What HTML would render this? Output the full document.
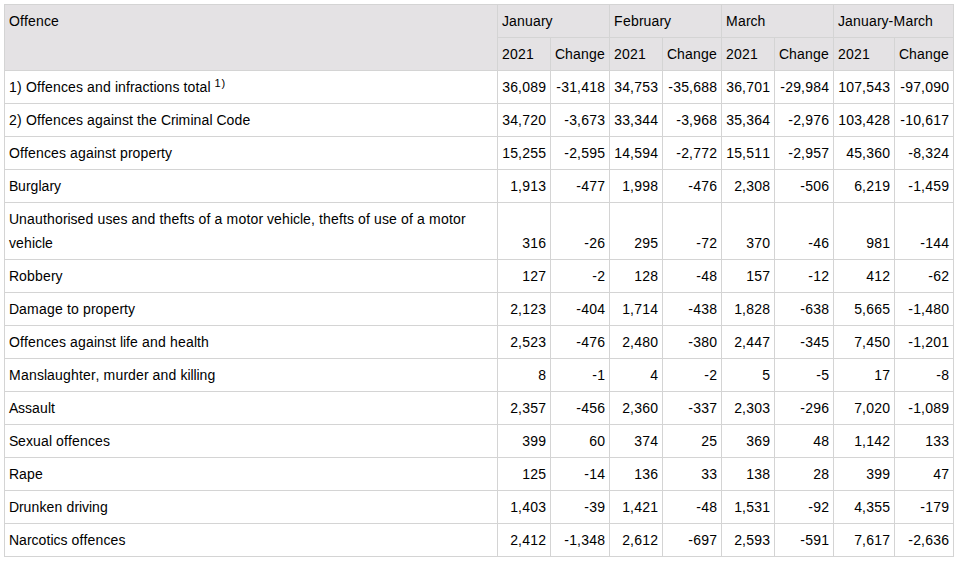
<!DOCTYPE html>
<html><head><meta charset="utf-8"><style>
html,body{margin:0;padding:0;background:#fff;}
body{width:957px;height:564px;overflow:hidden;position:relative;}
table{position:absolute;left:4px;top:4px;width:950px;border-collapse:collapse;table-layout:fixed;font-family:"Liberation Sans",sans-serif;font-size:14px;line-height:24px;color:#000;}
th,td{border:1px solid #d4d4d4;padding:4px 4px;white-space:nowrap;text-align:left;vertical-align:top;font-weight:normal;overflow:hidden;}
th{background:#e4e2e4;}
td{vertical-align:bottom;}
td.n{text-align:right;}
i{display:inline-block;font-style:normal;}
sup{font-size:11px;line-height:0;vertical-align:5px;}
.w3{width:3px}.w4{width:4px}.w4_5{width:4.5px}.w5{width:5px}.w7{width:7px}.w8{width:8px}.w9{width:9px}.w10{width:10px}.w11{width:11px}.w12{width:12px}
</style></head><body>
<table>
<colgroup><col style="width:493px"><col style="width:53px"><col style="width:59px"><col style="width:53px"><col style="width:59px"><col style="width:53px"><col style="width:59px"><col style="width:61px"><col style="width:59px"></colgroup>
<thead>
<tr><th rowspan="2"><i class=w11>O</i><i class=w4>f</i><i class=w4>f</i><i class=w8>e</i><i class=w8>n</i><i class=w7>c</i><i class=w8>e</i></th><th colspan="2"><i class=w7>J</i><i class=w8>a</i><i class=w8>n</i><i class=w8>u</i><i class=w8>a</i><i class=w4_5>r</i><i class=w7>y</i></th><th colspan="2"><i class=w9>F</i><i class=w8>e</i><i class=w8>b</i><i class=w4_5>r</i><i class=w8>u</i><i class=w8>a</i><i class=w4_5>r</i><i class=w7>y</i></th><th colspan="2"><i class=w12>M</i><i class=w8>a</i><i class=w4_5>r</i><i class=w7>c</i><i class=w8>h</i></th><th colspan="2"><i class=w7>J</i><i class=w8>a</i><i class=w8>n</i><i class=w8>u</i><i class=w8>a</i><i class=w4_5>r</i><i class=w7>y</i><i class=w5>-</i><i class=w12>M</i><i class=w8>a</i><i class=w4_5>r</i><i class=w7>c</i><i class=w8>h</i></th></tr>
<tr><th><i class=w8>2</i><i class=w8>0</i><i class=w8>2</i><i class=w8>1</i></th><th><i class=w10>C</i><i class=w8>h</i><i class=w8>a</i><i class=w8>n</i><i class=w8>g</i><i class=w8>e</i></th><th><i class=w8>2</i><i class=w8>0</i><i class=w8>2</i><i class=w8>1</i></th><th><i class=w10>C</i><i class=w8>h</i><i class=w8>a</i><i class=w8>n</i><i class=w8>g</i><i class=w8>e</i></th><th><i class=w8>2</i><i class=w8>0</i><i class=w8>2</i><i class=w8>1</i></th><th><i class=w10>C</i><i class=w8>h</i><i class=w8>a</i><i class=w8>n</i><i class=w8>g</i><i class=w8>e</i></th><th><i class=w8>2</i><i class=w8>0</i><i class=w8>2</i><i class=w8>1</i></th><th><i class=w10>C</i><i class=w8>h</i><i class=w8>a</i><i class=w8>n</i><i class=w8>g</i><i class=w8>e</i></th></tr>
</thead>
<tbody>
<tr><td><i class=w8>1</i><i class=w5>)</i><i class=w4>&nbsp;</i><i class=w11>O</i><i class=w4>f</i><i class=w4>f</i><i class=w8>e</i><i class=w8>n</i><i class=w7>c</i><i class=w8>e</i><i class=w7>s</i><i class=w4>&nbsp;</i><i class=w8>a</i><i class=w8>n</i><i class=w8>d</i><i class=w4>&nbsp;</i><i class=w3>i</i><i class=w8>n</i><i class=w4>f</i><i class=w4_5>r</i><i class=w8>a</i><i class=w7>c</i><i class=w4>t</i><i class=w3>i</i><i class=w8>o</i><i class=w8>n</i><i class=w7>s</i><i class=w4>&nbsp;</i><i class=w4>t</i><i class=w8>o</i><i class=w4>t</i><i class=w8>a</i><i class=w3>l</i><i class=w4>&nbsp;</i><sup><i class=w7>1</i><i class=w4>)</i></sup></td><td class=n><i class=w8>3</i><i class=w8>6</i><i class=w4>,</i><i class=w8>0</i><i class=w8>8</i><i class=w8>9</i></td><td class=n><i class=w5>-</i><i class=w8>3</i><i class=w8>1</i><i class=w4>,</i><i class=w8>4</i><i class=w8>1</i><i class=w8>8</i></td><td class=n><i class=w8>3</i><i class=w8>4</i><i class=w4>,</i><i class=w8>7</i><i class=w8>5</i><i class=w8>3</i></td><td class=n><i class=w5>-</i><i class=w8>3</i><i class=w8>5</i><i class=w4>,</i><i class=w8>6</i><i class=w8>8</i><i class=w8>8</i></td><td class=n><i class=w8>3</i><i class=w8>6</i><i class=w4>,</i><i class=w8>7</i><i class=w8>0</i><i class=w8>1</i></td><td class=n><i class=w5>-</i><i class=w8>2</i><i class=w8>9</i><i class=w4>,</i><i class=w8>9</i><i class=w8>8</i><i class=w8>4</i></td><td class=n><i class=w8>1</i><i class=w8>0</i><i class=w8>7</i><i class=w4>,</i><i class=w8>5</i><i class=w8>4</i><i class=w8>3</i></td><td class=n><i class=w5>-</i><i class=w8>9</i><i class=w8>7</i><i class=w4>,</i><i class=w8>0</i><i class=w8>9</i><i class=w8>0</i></td></tr>
<tr><td><i class=w8>2</i><i class=w5>)</i><i class=w4>&nbsp;</i><i class=w11>O</i><i class=w4>f</i><i class=w4>f</i><i class=w8>e</i><i class=w8>n</i><i class=w7>c</i><i class=w8>e</i><i class=w7>s</i><i class=w4>&nbsp;</i><i class=w8>a</i><i class=w8>g</i><i class=w8>a</i><i class=w3>i</i><i class=w8>n</i><i class=w7>s</i><i class=w4>t</i><i class=w4>&nbsp;</i><i class=w4>t</i><i class=w8>h</i><i class=w8>e</i><i class=w4>&nbsp;</i><i class=w10>C</i><i class=w4_5>r</i><i class=w3>i</i><i class=w12>m</i><i class=w3>i</i><i class=w8>n</i><i class=w8>a</i><i class=w3>l</i><i class=w4>&nbsp;</i><i class=w10>C</i><i class=w8>o</i><i class=w8>d</i><i class=w8>e</i></td><td class=n><i class=w8>3</i><i class=w8>4</i><i class=w4>,</i><i class=w8>7</i><i class=w8>2</i><i class=w8>0</i></td><td class=n><i class=w5>-</i><i class=w8>3</i><i class=w4>,</i><i class=w8>6</i><i class=w8>7</i><i class=w8>3</i></td><td class=n><i class=w8>3</i><i class=w8>3</i><i class=w4>,</i><i class=w8>3</i><i class=w8>4</i><i class=w8>4</i></td><td class=n><i class=w5>-</i><i class=w8>3</i><i class=w4>,</i><i class=w8>9</i><i class=w8>6</i><i class=w8>8</i></td><td class=n><i class=w8>3</i><i class=w8>5</i><i class=w4>,</i><i class=w8>3</i><i class=w8>6</i><i class=w8>4</i></td><td class=n><i class=w5>-</i><i class=w8>2</i><i class=w4>,</i><i class=w8>9</i><i class=w8>7</i><i class=w8>6</i></td><td class=n><i class=w8>1</i><i class=w8>0</i><i class=w8>3</i><i class=w4>,</i><i class=w8>4</i><i class=w8>2</i><i class=w8>8</i></td><td class=n><i class=w5>-</i><i class=w8>1</i><i class=w8>0</i><i class=w4>,</i><i class=w8>6</i><i class=w8>1</i><i class=w8>7</i></td></tr>
<tr><td><i class=w11>O</i><i class=w4>f</i><i class=w4>f</i><i class=w8>e</i><i class=w8>n</i><i class=w7>c</i><i class=w8>e</i><i class=w7>s</i><i class=w4>&nbsp;</i><i class=w8>a</i><i class=w8>g</i><i class=w8>a</i><i class=w3>i</i><i class=w8>n</i><i class=w7>s</i><i class=w4>t</i><i class=w4>&nbsp;</i><i class=w8>p</i><i class=w4_5>r</i><i class=w8>o</i><i class=w8>p</i><i class=w8>e</i><i class=w4_5>r</i><i class=w4>t</i><i class=w7>y</i></td><td class=n><i class=w8>1</i><i class=w8>5</i><i class=w4>,</i><i class=w8>2</i><i class=w8>5</i><i class=w8>5</i></td><td class=n><i class=w5>-</i><i class=w8>2</i><i class=w4>,</i><i class=w8>5</i><i class=w8>9</i><i class=w8>5</i></td><td class=n><i class=w8>1</i><i class=w8>4</i><i class=w4>,</i><i class=w8>5</i><i class=w8>9</i><i class=w8>4</i></td><td class=n><i class=w5>-</i><i class=w8>2</i><i class=w4>,</i><i class=w8>7</i><i class=w8>7</i><i class=w8>2</i></td><td class=n><i class=w8>1</i><i class=w8>5</i><i class=w4>,</i><i class=w8>5</i><i class=w8>1</i><i class=w8>1</i></td><td class=n><i class=w5>-</i><i class=w8>2</i><i class=w4>,</i><i class=w8>9</i><i class=w8>5</i><i class=w8>7</i></td><td class=n><i class=w8>4</i><i class=w8>5</i><i class=w4>,</i><i class=w8>3</i><i class=w8>6</i><i class=w8>0</i></td><td class=n><i class=w5>-</i><i class=w8>8</i><i class=w4>,</i><i class=w8>3</i><i class=w8>2</i><i class=w8>4</i></td></tr>
<tr><td><i class=w9>B</i><i class=w8>u</i><i class=w4_5>r</i><i class=w8>g</i><i class=w3>l</i><i class=w8>a</i><i class=w4_5>r</i><i class=w7>y</i></td><td class=n><i class=w8>1</i><i class=w4>,</i><i class=w8>9</i><i class=w8>1</i><i class=w8>3</i></td><td class=n><i class=w5>-</i><i class=w8>4</i><i class=w8>7</i><i class=w8>7</i></td><td class=n><i class=w8>1</i><i class=w4>,</i><i class=w8>9</i><i class=w8>9</i><i class=w8>8</i></td><td class=n><i class=w5>-</i><i class=w8>4</i><i class=w8>7</i><i class=w8>6</i></td><td class=n><i class=w8>2</i><i class=w4>,</i><i class=w8>3</i><i class=w8>0</i><i class=w8>8</i></td><td class=n><i class=w5>-</i><i class=w8>5</i><i class=w8>0</i><i class=w8>6</i></td><td class=n><i class=w8>6</i><i class=w4>,</i><i class=w8>2</i><i class=w8>1</i><i class=w8>9</i></td><td class=n><i class=w5>-</i><i class=w8>1</i><i class=w4>,</i><i class=w8>4</i><i class=w8>5</i><i class=w8>9</i></td></tr>
<tr><td><i class=w10>U</i><i class=w8>n</i><i class=w8>a</i><i class=w8>u</i><i class=w4>t</i><i class=w8>h</i><i class=w8>o</i><i class=w4_5>r</i><i class=w3>i</i><i class=w7>s</i><i class=w8>e</i><i class=w8>d</i><i class=w4>&nbsp;</i><i class=w8>u</i><i class=w7>s</i><i class=w8>e</i><i class=w7>s</i><i class=w4>&nbsp;</i><i class=w8>a</i><i class=w8>n</i><i class=w8>d</i><i class=w4>&nbsp;</i><i class=w4>t</i><i class=w8>h</i><i class=w8>e</i><i class=w4>f</i><i class=w4>t</i><i class=w7>s</i><i class=w4>&nbsp;</i><i class=w8>o</i><i class=w4>f</i><i class=w4>&nbsp;</i><i class=w8>a</i><i class=w4>&nbsp;</i><i class=w12>m</i><i class=w8>o</i><i class=w4>t</i><i class=w8>o</i><i class=w4_5>r</i><i class=w4>&nbsp;</i><i class=w7>v</i><i class=w8>e</i><i class=w8>h</i><i class=w3>i</i><i class=w7>c</i><i class=w3>l</i><i class=w8>e</i><i class=w4>,</i><i class=w4>&nbsp;</i><i class=w4>t</i><i class=w8>h</i><i class=w8>e</i><i class=w4>f</i><i class=w4>t</i><i class=w7>s</i><i class=w4>&nbsp;</i><i class=w8>o</i><i class=w4>f</i><i class=w4>&nbsp;</i><i class=w8>u</i><i class=w7>s</i><i class=w8>e</i><i class=w4>&nbsp;</i><i class=w8>o</i><i class=w4>f</i><i class=w4>&nbsp;</i><i class=w8>a</i><i class=w4>&nbsp;</i><i class=w12>m</i><i class=w8>o</i><i class=w4>t</i><i class=w8>o</i><i class=w4_5>r</i><br><i class=w7>v</i><i class=w8>e</i><i class=w8>h</i><i class=w3>i</i><i class=w7>c</i><i class=w3>l</i><i class=w8>e</i></td><td class=n><i class=w8>3</i><i class=w8>1</i><i class=w8>6</i></td><td class=n><i class=w5>-</i><i class=w8>2</i><i class=w8>6</i></td><td class=n><i class=w8>2</i><i class=w8>9</i><i class=w8>5</i></td><td class=n><i class=w5>-</i><i class=w8>7</i><i class=w8>2</i></td><td class=n><i class=w8>3</i><i class=w8>7</i><i class=w8>0</i></td><td class=n><i class=w5>-</i><i class=w8>4</i><i class=w8>6</i></td><td class=n><i class=w8>9</i><i class=w8>8</i><i class=w8>1</i></td><td class=n><i class=w5>-</i><i class=w8>1</i><i class=w8>4</i><i class=w8>4</i></td></tr>
<tr><td><i class=w10>R</i><i class=w8>o</i><i class=w8>b</i><i class=w8>b</i><i class=w8>e</i><i class=w4_5>r</i><i class=w7>y</i></td><td class=n><i class=w8>1</i><i class=w8>2</i><i class=w8>7</i></td><td class=n><i class=w5>-</i><i class=w8>2</i></td><td class=n><i class=w8>1</i><i class=w8>2</i><i class=w8>8</i></td><td class=n><i class=w5>-</i><i class=w8>4</i><i class=w8>8</i></td><td class=n><i class=w8>1</i><i class=w8>5</i><i class=w8>7</i></td><td class=n><i class=w5>-</i><i class=w8>1</i><i class=w8>2</i></td><td class=n><i class=w8>4</i><i class=w8>1</i><i class=w8>2</i></td><td class=n><i class=w5>-</i><i class=w8>6</i><i class=w8>2</i></td></tr>
<tr><td><i class=w10>D</i><i class=w8>a</i><i class=w12>m</i><i class=w8>a</i><i class=w8>g</i><i class=w8>e</i><i class=w4>&nbsp;</i><i class=w4>t</i><i class=w8>o</i><i class=w4>&nbsp;</i><i class=w8>p</i><i class=w4_5>r</i><i class=w8>o</i><i class=w8>p</i><i class=w8>e</i><i class=w4_5>r</i><i class=w4>t</i><i class=w7>y</i></td><td class=n><i class=w8>2</i><i class=w4>,</i><i class=w8>1</i><i class=w8>2</i><i class=w8>3</i></td><td class=n><i class=w5>-</i><i class=w8>4</i><i class=w8>0</i><i class=w8>4</i></td><td class=n><i class=w8>1</i><i class=w4>,</i><i class=w8>7</i><i class=w8>1</i><i class=w8>4</i></td><td class=n><i class=w5>-</i><i class=w8>4</i><i class=w8>3</i><i class=w8>8</i></td><td class=n><i class=w8>1</i><i class=w4>,</i><i class=w8>8</i><i class=w8>2</i><i class=w8>8</i></td><td class=n><i class=w5>-</i><i class=w8>6</i><i class=w8>3</i><i class=w8>8</i></td><td class=n><i class=w8>5</i><i class=w4>,</i><i class=w8>6</i><i class=w8>6</i><i class=w8>5</i></td><td class=n><i class=w5>-</i><i class=w8>1</i><i class=w4>,</i><i class=w8>4</i><i class=w8>8</i><i class=w8>0</i></td></tr>
<tr><td><i class=w11>O</i><i class=w4>f</i><i class=w4>f</i><i class=w8>e</i><i class=w8>n</i><i class=w7>c</i><i class=w8>e</i><i class=w7>s</i><i class=w4>&nbsp;</i><i class=w8>a</i><i class=w8>g</i><i class=w8>a</i><i class=w3>i</i><i class=w8>n</i><i class=w7>s</i><i class=w4>t</i><i class=w4>&nbsp;</i><i class=w3>l</i><i class=w3>i</i><i class=w4>f</i><i class=w8>e</i><i class=w4>&nbsp;</i><i class=w8>a</i><i class=w8>n</i><i class=w8>d</i><i class=w4>&nbsp;</i><i class=w8>h</i><i class=w8>e</i><i class=w8>a</i><i class=w3>l</i><i class=w4>t</i><i class=w8>h</i></td><td class=n><i class=w8>2</i><i class=w4>,</i><i class=w8>5</i><i class=w8>2</i><i class=w8>3</i></td><td class=n><i class=w5>-</i><i class=w8>4</i><i class=w8>7</i><i class=w8>6</i></td><td class=n><i class=w8>2</i><i class=w4>,</i><i class=w8>4</i><i class=w8>8</i><i class=w8>0</i></td><td class=n><i class=w5>-</i><i class=w8>3</i><i class=w8>8</i><i class=w8>0</i></td><td class=n><i class=w8>2</i><i class=w4>,</i><i class=w8>4</i><i class=w8>4</i><i class=w8>7</i></td><td class=n><i class=w5>-</i><i class=w8>3</i><i class=w8>4</i><i class=w8>5</i></td><td class=n><i class=w8>7</i><i class=w4>,</i><i class=w8>4</i><i class=w8>5</i><i class=w8>0</i></td><td class=n><i class=w5>-</i><i class=w8>1</i><i class=w4>,</i><i class=w8>2</i><i class=w8>0</i><i class=w8>1</i></td></tr>
<tr><td><i class=w12>M</i><i class=w8>a</i><i class=w8>n</i><i class=w7>s</i><i class=w3>l</i><i class=w8>a</i><i class=w8>u</i><i class=w8>g</i><i class=w8>h</i><i class=w4>t</i><i class=w8>e</i><i class=w4_5>r</i><i class=w4>,</i><i class=w4>&nbsp;</i><i class=w12>m</i><i class=w8>u</i><i class=w4_5>r</i><i class=w8>d</i><i class=w8>e</i><i class=w4_5>r</i><i class=w4>&nbsp;</i><i class=w8>a</i><i class=w8>n</i><i class=w8>d</i><i class=w4>&nbsp;</i><i class=w7>k</i><i class=w3>i</i><i class=w3>l</i><i class=w3>l</i><i class=w3>i</i><i class=w8>n</i><i class=w8>g</i></td><td class=n><i class=w8>8</i></td><td class=n><i class=w5>-</i><i class=w8>1</i></td><td class=n><i class=w8>4</i></td><td class=n><i class=w5>-</i><i class=w8>2</i></td><td class=n><i class=w8>5</i></td><td class=n><i class=w5>-</i><i class=w8>5</i></td><td class=n><i class=w8>1</i><i class=w8>7</i></td><td class=n><i class=w5>-</i><i class=w8>8</i></td></tr>
<tr><td><i class=w9>A</i><i class=w7>s</i><i class=w7>s</i><i class=w8>a</i><i class=w8>u</i><i class=w3>l</i><i class=w4>t</i></td><td class=n><i class=w8>2</i><i class=w4>,</i><i class=w8>3</i><i class=w8>5</i><i class=w8>7</i></td><td class=n><i class=w5>-</i><i class=w8>4</i><i class=w8>5</i><i class=w8>6</i></td><td class=n><i class=w8>2</i><i class=w4>,</i><i class=w8>3</i><i class=w8>6</i><i class=w8>0</i></td><td class=n><i class=w5>-</i><i class=w8>3</i><i class=w8>3</i><i class=w8>7</i></td><td class=n><i class=w8>2</i><i class=w4>,</i><i class=w8>3</i><i class=w8>0</i><i class=w8>3</i></td><td class=n><i class=w5>-</i><i class=w8>2</i><i class=w8>9</i><i class=w8>6</i></td><td class=n><i class=w8>7</i><i class=w4>,</i><i class=w8>0</i><i class=w8>2</i><i class=w8>0</i></td><td class=n><i class=w5>-</i><i class=w8>1</i><i class=w4>,</i><i class=w8>0</i><i class=w8>8</i><i class=w8>9</i></td></tr>
<tr><td><i class=w9>S</i><i class=w8>e</i><i class=w7>x</i><i class=w8>u</i><i class=w8>a</i><i class=w3>l</i><i class=w4>&nbsp;</i><i class=w8>o</i><i class=w4>f</i><i class=w4>f</i><i class=w8>e</i><i class=w8>n</i><i class=w7>c</i><i class=w8>e</i><i class=w7>s</i></td><td class=n><i class=w8>3</i><i class=w8>9</i><i class=w8>9</i></td><td class=n><i class=w8>6</i><i class=w8>0</i></td><td class=n><i class=w8>3</i><i class=w8>7</i><i class=w8>4</i></td><td class=n><i class=w8>2</i><i class=w8>5</i></td><td class=n><i class=w8>3</i><i class=w8>6</i><i class=w8>9</i></td><td class=n><i class=w8>4</i><i class=w8>8</i></td><td class=n><i class=w8>1</i><i class=w4>,</i><i class=w8>1</i><i class=w8>4</i><i class=w8>2</i></td><td class=n><i class=w8>1</i><i class=w8>3</i><i class=w8>3</i></td></tr>
<tr><td><i class=w10>R</i><i class=w8>a</i><i class=w8>p</i><i class=w8>e</i></td><td class=n><i class=w8>1</i><i class=w8>2</i><i class=w8>5</i></td><td class=n><i class=w5>-</i><i class=w8>1</i><i class=w8>4</i></td><td class=n><i class=w8>1</i><i class=w8>3</i><i class=w8>6</i></td><td class=n><i class=w8>3</i><i class=w8>3</i></td><td class=n><i class=w8>1</i><i class=w8>3</i><i class=w8>8</i></td><td class=n><i class=w8>2</i><i class=w8>8</i></td><td class=n><i class=w8>3</i><i class=w8>9</i><i class=w8>9</i></td><td class=n><i class=w8>4</i><i class=w8>7</i></td></tr>
<tr><td><i class=w10>D</i><i class=w4_5>r</i><i class=w8>u</i><i class=w8>n</i><i class=w7>k</i><i class=w8>e</i><i class=w8>n</i><i class=w4>&nbsp;</i><i class=w8>d</i><i class=w4_5>r</i><i class=w3>i</i><i class=w7>v</i><i class=w3>i</i><i class=w8>n</i><i class=w8>g</i></td><td class=n><i class=w8>1</i><i class=w4>,</i><i class=w8>4</i><i class=w8>0</i><i class=w8>3</i></td><td class=n><i class=w5>-</i><i class=w8>3</i><i class=w8>9</i></td><td class=n><i class=w8>1</i><i class=w4>,</i><i class=w8>4</i><i class=w8>2</i><i class=w8>1</i></td><td class=n><i class=w5>-</i><i class=w8>4</i><i class=w8>8</i></td><td class=n><i class=w8>1</i><i class=w4>,</i><i class=w8>5</i><i class=w8>3</i><i class=w8>1</i></td><td class=n><i class=w5>-</i><i class=w8>9</i><i class=w8>2</i></td><td class=n><i class=w8>4</i><i class=w4>,</i><i class=w8>3</i><i class=w8>5</i><i class=w8>5</i></td><td class=n><i class=w5>-</i><i class=w8>1</i><i class=w8>7</i><i class=w8>9</i></td></tr>
<tr><td><i class=w10>N</i><i class=w8>a</i><i class=w4_5>r</i><i class=w7>c</i><i class=w8>o</i><i class=w4>t</i><i class=w3>i</i><i class=w7>c</i><i class=w7>s</i><i class=w4>&nbsp;</i><i class=w8>o</i><i class=w4>f</i><i class=w4>f</i><i class=w8>e</i><i class=w8>n</i><i class=w7>c</i><i class=w8>e</i><i class=w7>s</i></td><td class=n><i class=w8>2</i><i class=w4>,</i><i class=w8>4</i><i class=w8>1</i><i class=w8>2</i></td><td class=n><i class=w5>-</i><i class=w8>1</i><i class=w4>,</i><i class=w8>3</i><i class=w8>4</i><i class=w8>8</i></td><td class=n><i class=w8>2</i><i class=w4>,</i><i class=w8>6</i><i class=w8>1</i><i class=w8>2</i></td><td class=n><i class=w5>-</i><i class=w8>6</i><i class=w8>9</i><i class=w8>7</i></td><td class=n><i class=w8>2</i><i class=w4>,</i><i class=w8>5</i><i class=w8>9</i><i class=w8>3</i></td><td class=n><i class=w5>-</i><i class=w8>5</i><i class=w8>9</i><i class=w8>1</i></td><td class=n><i class=w8>7</i><i class=w4>,</i><i class=w8>6</i><i class=w8>1</i><i class=w8>7</i></td><td class=n><i class=w5>-</i><i class=w8>2</i><i class=w4>,</i><i class=w8>6</i><i class=w8>3</i><i class=w8>6</i></td></tr>
</tbody>
</table>
</body></html>
